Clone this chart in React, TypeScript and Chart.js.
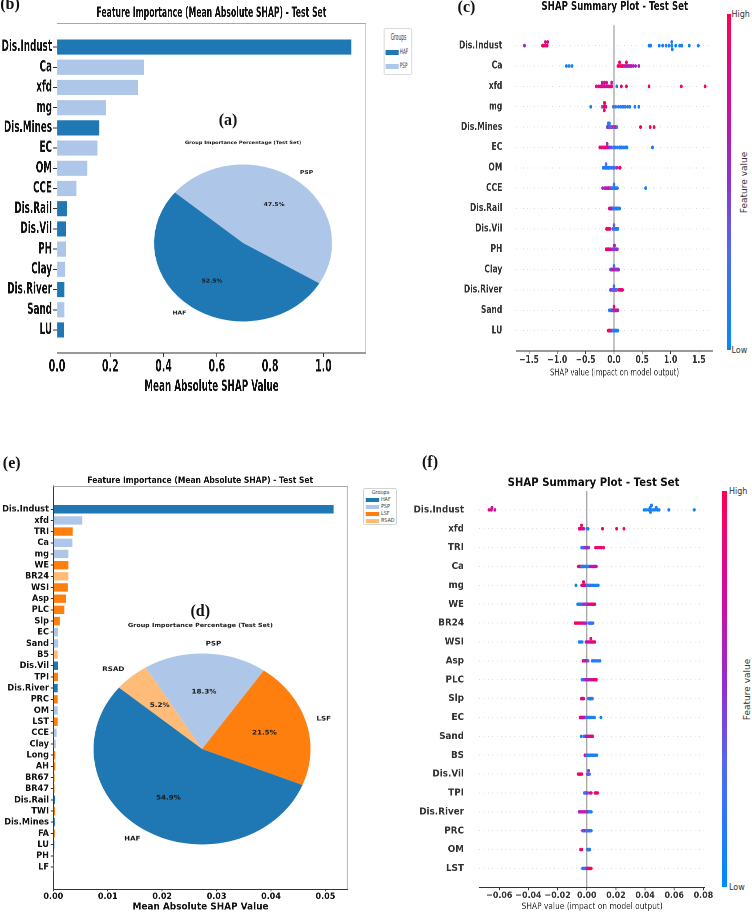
import React, { useEffect, useRef } from 'react';
import { Chart, registerables } from 'chart.js';

Chart.register(...registerables);
Chart.defaults.font.family = "'DejaVu Sans', sans-serif";

// ================= DATA =================
const groupNames = ['HAF', 'PSP', 'LSF', 'RSAD'];
const groupColorList = ['#1f77b4', '#aec7e8', '#ff7f0e', '#ffbb78'];

// (b) feature importance, first model
const bFeatures = ['Dis.Indust', 'Ca', 'xfd', 'mg', 'Dis.Mines', 'EC', 'OM', 'CCE', 'Dis.Rail', 'Dis.Vil', 'PH', 'Clay', 'Dis.River', 'Sand', 'LU'];
const bValues = [1.105, 0.327, 0.304, 0.183, 0.159, 0.152, 0.114, 0.073, 0.039, 0.033, 0.033, 0.031, 0.028, 0.028, 0.026];
const bGroups = ['HAF', 'PSP', 'PSP', 'PSP', 'HAF', 'PSP', 'PSP', 'PSP', 'HAF', 'HAF', 'PSP', 'PSP', 'HAF', 'PSP', 'HAF'];
const bXTicks = [0, 0.2, 0.4, 0.6, 0.8, 1.0];
const bLegendGroups = ['HAF', 'PSP'];

// (a) group pie, first model
const aGroups = ['HAF', 'PSP'];
const aPercent = [52.5, 47.5];

// (c) SHAP summary, first model
const cFeatures = ['Dis.Indust', 'Ca', 'xfd', 'mg', 'Dis.Mines', 'EC', 'OM', 'CCE', 'Dis.Rail', 'Dis.Vil', 'PH', 'Clay', 'Dis.River', 'Sand', 'LU'];
const cShap = [
  [-1.58, -1.26, -1.24, -1.21, -1.21, -1.18, -1.17, 0.62, 0.65, 0.8, 0.86, 0.92, 0.97, 1.02, 1.02, 1.03, 1.09, 1.16, 1.19, 1.2, 1.33, 1.49],
  [-0.84, -0.79, -0.74, 0.07, 0.09, 0.1, 0.12, 0.13, 0.15, 0.16, 0.18, 0.2, 0.22, 0.22, 0.23, 0.25, 0.27, 0.29, 0.31, 0.34, 0.38, 0.44],
  [-0.31, -0.27, -0.24, -0.22, -0.21, -0.2, -0.18, -0.17, -0.16, -0.14, -0.13, -0.11, -0.09, -0.06, -0.04, -0.04, 0.05, 0.13, 0.22, 0.62, 1.19, 1.61],
  [-0.41, -0.21, -0.18, -0.17, -0.17, -0.17, -0.16, -0.16, -0.15, -0.14, -0.01, 0.03, 0.08, 0.12, 0.16, 0.2, 0.24, 0.28, 0.37, 0.44],
  [-0.12, -0.11, -0.1, -0.1, -0.09, -0.08, -0.08, -0.07, -0.06, -0.05, -0.04, -0.02, -0.01, 0.0, 0.02, 0.03, 0.05, 0.47, 0.64, 0.71],
  [-0.25, -0.22, -0.19, -0.16, -0.14, -0.12, -0.12, -0.1, -0.08, -0.05, -0.01, 0.02, 0.06, 0.1, 0.11, 0.13, 0.16, 0.2, 0.23, 0.68],
  [-0.19, -0.17, -0.16, -0.15, -0.14, -0.14, -0.13, -0.12, -0.11, -0.1, -0.09, -0.08, -0.07, -0.05, -0.03, -0.01, 0.01, 0.05, 0.1, 0.11],
  [-0.2, -0.16, -0.14, -0.12, -0.1, -0.09, -0.07, -0.06, -0.04, -0.03, -0.02, -0.01, 0.0, 0.0, 0.01, 0.02, 0.03, 0.04, 0.06, 0.56],
  [-0.08, -0.07, -0.06, -0.05, -0.04, -0.03, -0.02, -0.01, 0.0, 0.01, 0.02, 0.03, 0.04, 0.05, 0.06, 0.07, 0.08, 0.1],
  [-0.13, -0.12, -0.11, -0.1, -0.08, -0.07, -0.02, -0.01, 0.0, 0.0, 0.01, 0.02, 0.03, 0.04, 0.05, 0.06, 0.07],
  [-0.14, -0.13, -0.11, -0.1, -0.09, -0.07, -0.06, -0.03, -0.02, -0.01, 0.0, 0.01, 0.01, 0.02, 0.03, 0.04, 0.06],
  [-0.06, -0.05, -0.04, -0.03, -0.02, -0.01, 0.0, 0.0, 0.01, 0.02, 0.03, 0.04, 0.05, 0.06, 0.07, 0.08],
  [-0.06, -0.05, -0.03, -0.02, -0.01, 0.0, 0.0, 0.01, 0.02, 0.03, 0.04, 0.05, 0.09, 0.11, 0.13, 0.15],
  [-0.08, -0.06, -0.05, -0.03, -0.02, -0.01, 0.0, 0.0, 0.01, 0.02, 0.03, 0.04, 0.05, 0.06, 0.07],
  [-0.1, -0.09, -0.08, -0.07, -0.05, -0.04, -0.02, -0.01, 0.0, 0.01, 0.02, 0.03, 0.04, 0.05, 0.07],
];
const cFeat = [
  [0.55, 0.9, 0.95, 0.85, 0.7, 0.95, 0.9, 0.1, 0.05, 0.1, 0.05, 0.15, 0.1, 0.05, 0.2, 0.1, 0.05, 0.1, 0.05, 0.15, 0.05, 0.1],
  [0.05, 0.1, 0.05, 0.95, 0.9, 1, 0.85, 0.95, 0.7, 0.9, 0.6, 0.85, 0.6, 0.95, 0.55, 0.8, 0.6, 0.65, 0.7, 0.6, 0.55, 0.6],
  [0.9, 0.8, 0.95, 0.7, 0.65, 0.85, 0.6, 0.75, 0.9, 0.65, 0.8, 0.7, 0.85, 0.75, 0.9, 0.6, 0.1, 0.95, 0.9, 1, 1, 1],
  [0.05, 0.1, 0.95, 1, 0.9, 0.95, 0.85, 1, 0.9, 0.8, 0.2, 0.15, 0.1, 0.25, 0.1, 0.2, 0.05, 0.15, 0.1, 0.05],
  [0.4, 0.3, 0.5, 0.2, 0.6, 0.35, 0.15, 0.45, 0.25, 0.55, 0.3, 0.2, 0.65, 0.25, 0.3, 0.9, 0.2, 0.95, 1, 0.9],
  [0.85, 0.9, 0.7, 0.95, 0.8, 0.9, 0.6, 0.75, 0.5, 0.4, 0.3, 0.2, 0.15, 0.1, 0.05, 0.2, 0.15, 0.1, 0.05, 0.05],
  [0.1, 0.05, 0.2, 0.15, 0.1, 0.25, 0.05, 0.1, 0.2, 0.15, 0.05, 0.1, 0.3, 0.15, 0.2, 0.1, 0.35, 0.55, 0.95, 0.9],
  [0.55, 0.6, 0.7, 0.65, 0.5, 0.9, 0.6, 0.45, 0.3, 0.2, 0.15, 0.1, 0.1, 0.2, 0.05, 0.1, 0.15, 0.05, 0.1, 0.05],
  [0.9, 0.95, 0.6, 0.9, 0.55, 0.85, 0.5, 0.3, 0.2, 0.1, 0.15, 0.05, 0.1, 0.05, 0.1, 0.05, 0.1, 0.05],
  [0.95, 0.9, 1, 0.85, 0.9, 0.8, 0.4, 0.3, 0.2, 0.35, 0.15, 0.1, 0.25, 0.1, 0.05, 0.2, 0.1],
  [0.95, 0.9, 0.85, 1, 0.9, 0.8, 0.75, 0.6, 0.55, 0.5, 0.65, 0.45, 0.6, 0.5, 0.4, 0.55, 0.5],
  [0.3, 0.5, 0.2, 0.6, 0.35, 0.9, 0.45, 0.25, 0.55, 0.3, 0.8, 0.4, 0.6, 0.5, 0.35, 0.55],
  [0.5, 0.45, 0.3, 0.55, 0.2, 0.4, 0.15, 0.35, 0.25, 0.5, 0.2, 0.3, 0.9, 0.95, 0.85, 0.9],
  [0.1, 0.2, 0.15, 0.9, 0.3, 0.85, 0.2, 0.9, 0.6, 0.95, 0.5, 0.8, 0.9, 0.7, 0.6],
  [0.95, 0.9, 1, 0.85, 0.9, 0.5, 0.3, 0.2, 0.1, 0.15, 0.05, 0.1, 0.2, 0.05, 0.1],
];
const cXTicks = [-1.5, -1.0, -0.5, 0.0, 0.5, 1.0, 1.5];

// (e) feature importance, second model
const eFeatures = ['Dis.Indust', 'xfd', 'TRI', 'Ca', 'mg', 'WE', 'BR24', 'WSI', 'Asp', 'PLC', 'Slp', 'EC', 'Sand', 'B5', 'Dis.Vil', 'TPI', 'Dis.River', 'PRC', 'OM', 'LST', 'CCE', 'Clay', 'Long', 'AH', 'BR67', 'BR47', 'Dis.Rail', 'TWI', 'Dis.Mines', 'FA', 'LU', 'PH', 'LF'];
const eValues = [0.0515, 0.00534, 0.00356, 0.0035, 0.00276, 0.00276, 0.00276, 0.00264, 0.00233, 0.00202, 0.0012, 0.00092, 0.00092, 0.0008, 0.00086, 0.00086, 0.0008, 0.0008, 0.0008, 0.0008, 0.0006, 0.00043, 0.00037, 0.00037, 0.0003, 0.0003, 0.0003, 0.0003, 0.00025, 0.00025, 0.0002, 0.00006, 0.00003];
const eGroups = ['HAF', 'PSP', 'LSF', 'PSP', 'PSP', 'LSF', 'RSAD', 'LSF', 'LSF', 'LSF', 'LSF', 'PSP', 'PSP', 'RSAD', 'HAF', 'LSF', 'HAF', 'LSF', 'PSP', 'LSF', 'PSP', 'PSP', 'LSF', 'LSF', 'RSAD', 'RSAD', 'HAF', 'LSF', 'HAF', 'LSF', 'HAF', 'PSP', 'LSF'];
const eXTicks = [0, 0.01, 0.02, 0.03, 0.04, 0.05];
const eLegendGroups = ['HAF', 'PSP', 'LSF', 'RSAD'];

// (d) group pie, second model
const dGroups = ['HAF', 'LSF', 'PSP', 'RSAD'];
const dPercent = [54.9, 21.5, 18.3, 5.2];

// (f) SHAP summary, second model
const fFeatures = ['Dis.Indust', 'xfd', 'TRI', 'Ca', 'mg', 'WE', 'BR24', 'WSI', 'Asp', 'PLC', 'Slp', 'EC', 'Sand', 'BS', 'Dis.Vil', 'TPI', 'Dis.River', 'PRC', 'OM', 'LST'];
const fShap = [
  [-0.067, -0.0655, -0.065, -0.063, 0.0394, 0.0408, 0.0424, 0.0435, 0.0435, 0.0437, 0.0444, 0.0455, 0.0466, 0.0476, 0.0484, 0.0496, 0.0563, 0.0737],
  [-0.0052, -0.0048, -0.0045, -0.0043, -0.0041, -0.0038, -0.0036, -0.0034, -0.0031, -0.0028, -0.0025, -0.0021, 0.0002, 0.0008, 0.0108, 0.0205, 0.0255],
  [-0.0034, -0.003, -0.0024, -0.0018, -0.0012, -0.0008, -0.0005, -0.0002, 0.0, 0.0003, 0.0008, 0.0013, 0.0061, 0.0075, 0.009, 0.01, 0.0115],
  [-0.0056, -0.005, -0.0045, -0.004, -0.0035, -0.003, -0.0025, -0.002, -0.0012, -0.0005, 0.0, 0.0008, 0.0015, 0.0025, 0.0035, 0.0042, 0.005, 0.0058, 0.0065],
  [-0.0074, -0.0034, -0.0028, -0.0022, -0.0022, -0.0018, -0.0015, -0.0012, -0.0008, 0.0005, 0.0015, 0.002, 0.003, 0.004, 0.0052, 0.0065, 0.0078],
  [-0.0061, -0.0055, -0.0048, -0.004, -0.0032, -0.0025, -0.0015, -0.0008, 0.0, 0.0008, 0.0015, 0.0025, 0.0032, 0.0035, 0.0038, 0.004, 0.0048, 0.0055],
  [-0.0079, -0.0072, -0.0065, -0.0058, -0.005, -0.0043, -0.0035, -0.0028, -0.002, -0.0012, -0.0005, 0.0015, 0.0022, 0.0025, 0.0028, 0.003, 0.0033, 0.0038, 0.0042],
  [-0.0052, -0.0045, -0.0032, -0.0005, 0.0, 0.0008, 0.0015, 0.0022, 0.0028, 0.0028, 0.0032, 0.0035, 0.0042, 0.0048, 0.0055],
  [-0.0025, -0.002, -0.0015, -0.0012, -0.001, -0.0007, -0.0005, -0.0002, 0.0, 0.0003, 0.0008, 0.0038, 0.0045, 0.0055, 0.0065, 0.0078, 0.009],
  [-0.0032, -0.0025, -0.0015, -0.0008, -0.0002, 0.0004, 0.001, 0.0016, 0.0022, 0.0028, 0.0034, 0.004, 0.0046, 0.0052, 0.0058, 0.0065],
  [-0.0036, -0.0034, -0.0032, -0.003, -0.0028, -0.0025, -0.0022, 0.0012, 0.0018, 0.0022, 0.0025, 0.0028, 0.0032, 0.0035, 0.0038],
  [-0.0045, -0.004, -0.0035, -0.003, -0.0025, -0.002, -0.0015, -0.0008, -0.0002, 0.0005, 0.0012, 0.002, 0.003, 0.004, 0.0052, 0.0097],
  [-0.0038, -0.0018, -0.0012, -0.0005, 0.0, 0.0005, 0.001, 0.0015, 0.002, 0.0025, 0.003, 0.0035, 0.004],
  [-0.0012, -0.001, -0.0008, -0.0006, -0.0004, 0.0, 0.0005, 0.001, 0.0015, 0.002, 0.0025, 0.003, 0.0035, 0.004, 0.0045, 0.0052, 0.006, 0.0068],
  [-0.0058, -0.0052, -0.0048, -0.0044, -0.004, -0.0034, 0.0005, 0.0008, 0.001, 0.0012, 0.0012, 0.0014, 0.0016, 0.0018],
  [-0.0016, -0.0012, -0.0008, -0.0005, -0.0002, 0.0, 0.0002, 0.0005, 0.0025, 0.003, 0.0058, 0.0063, 0.0068, 0.0074],
  [-0.0052, -0.0045, -0.0038, -0.003, -0.0022, -0.0015, -0.0008, 0.0, 0.0005, 0.0008, 0.0012, 0.0018, 0.0025, 0.003],
  [-0.0028, -0.0022, -0.0018, -0.0012, -0.0008, -0.0004, 0.0, 0.0005, 0.001, 0.0014, 0.0018, 0.0022, 0.0026, 0.003],
  [-0.0042, -0.0038, -0.0034, 0.0006, 0.0008, 0.001, 0.0012, 0.0014, 0.0016, 0.0018, 0.002],
  [-0.0028, -0.0022, -0.0016, -0.0012, -0.0008, -0.0004, 0.0, 0.0004, 0.0008, 0.0012, 0.0016, 0.002, 0.0025, 0.003],
];
const fFeat = [
  [0.8, 0.85, 0.7, 0.75, 0.05, 0.1, 0.05, 0.15, 0.1, 0.05, 0.1, 0.05, 0.2, 0.1, 0.05, 0.1, 0.05, 0.05],
  [0.9, 0.95, 0.85, 1, 0.9, 0.8, 0.95, 0.9, 0.85, 0.6, 0.9, 0.7, 0.1, 0.05, 0.95, 0.9, 0.95],
  [0.1, 0.2, 0.15, 0.3, 0.5, 0.6, 0.4, 0.55, 0.7, 0.45, 0.6, 0.5, 0.95, 0.9, 1, 0.85, 0.9],
  [0.9, 0.95, 0.85, 0.9, 0.2, 0.1, 0.15, 0.05, 0.1, 0.2, 0.15, 0.05, 0.1, 0.6, 0.8, 0.55, 0.9, 0.65, 0.75],
  [0.05, 0.6, 0.95, 0.9, 1, 0.85, 0.9, 0.95, 0.8, 0.2, 0.15, 0.1, 0.3, 0.1, 0.05, 0.15, 0.05],
  [0.05, 0.1, 0.15, 0.1, 0.2, 0.45, 0.55, 0.6, 0.4, 0.65, 0.75, 0.8, 0.9, 0.95, 0.85, 1, 0.9, 0.8],
  [0.95, 0.9, 1, 0.9, 0.85, 0.95, 0.8, 0.9, 0.7, 0.6, 0.55, 0.2, 0.1, 0.3, 0.15, 0.05, 0.2, 0.1, 0.25],
  [0.05, 0.1, 0.15, 0.5, 0.6, 0.8, 0.9, 0.7, 0.95, 0.85, 0.9, 0.6, 1, 0.9, 0.85],
  [0.9, 0.7, 0.95, 0.6, 0.85, 0.75, 0.9, 0.5, 0.8, 0.55, 0.4, 0.1, 0.05, 0.15, 0.1, 0.05, 0.1],
  [0.1, 0.15, 0.5, 0.55, 0.6, 0.65, 0.7, 0.6, 0.75, 0.8, 0.65, 0.9, 0.7, 0.85, 0.95, 0.9],
  [0.95, 0.9, 1, 0.85, 0.9, 0.95, 0.8, 0.1, 0.05, 0.15, 0.1, 0.2, 0.05, 0.1, 0.15],
  [0.95, 0.9, 0.85, 1, 0.9, 0.6, 0.8, 0.5, 0.3, 0.2, 0.15, 0.1, 0.05, 0.1, 0.15, 0.05],
  [0.05, 0.1, 0.3, 0.5, 0.6, 0.7, 0.85, 0.9, 0.65, 0.95, 0.8, 0.9, 0.75],
  [0.7, 0.8, 0.6, 0.9, 0.55, 0.3, 0.2, 0.15, 0.1, 0.05, 0.1, 0.2, 0.05, 0.15, 0.1, 0.05, 0.1, 0.05],
  [0.95, 0.9, 1, 0.85, 0.9, 0.95, 0.5, 0.3, 0.6, 0.2, 0.45, 0.35, 0.55, 0.25],
  [0.2, 0.3, 0.15, 0.4, 0.1, 0.35, 0.25, 0.45, 0.9, 0.85, 0.95, 1, 0.9, 0.85],
  [0.6, 0.55, 0.65, 0.5, 0.7, 0.45, 0.9, 0.3, 0.95, 0.2, 0.85, 0.1, 0.15, 0.05],
  [0.6, 0.5, 0.2, 0.1, 0.7, 0.15, 0.3, 0.05, 0.2, 0.1, 0.4, 0.15, 0.05, 0.1],
  [0.95, 0.9, 0.85, 0.1, 0.2, 0.05, 0.15, 0.1, 0.3, 0.05, 0.2],
  [0.1, 0.05, 0.15, 0.2, 0.3, 0.5, 0.4, 0.6, 0.8, 0.9, 0.85, 0.95, 0.9, 1],
];
const fXTicks = [-0.06, -0.04, -0.02, 0, 0.02, 0.04, 0.06, 0.08];

// texts
const barTitle = 'Feature Importance (Mean Absolute SHAP) - Test Set';
const barXTitle = 'Mean Absolute SHAP Value';
const pieTitle = 'Group Importance Percentage (Test Set)';
const shapTitle = 'SHAP Summary Plot - Test Set';
const shapXTitle = 'SHAP value (impact on model output)';
const pieStartAngle = 140;

// ================= HELPERS =================
const colorOf = (g: string) => groupColorList[groupNames.indexOf(g)];
const fmtMinus = (v: number, d: number) => (v < -1e-12 ? '\u2212' : '') + Math.abs(v).toFixed(d);

const cmapStops: [number, number[]][] = [
  [0, [0, 138, 250]],
  [0.3, [80, 105, 240]],
  [0.5, [140, 50, 215]],
  [0.72, [205, 15, 160]],
  [1, [255, 0, 82]],
];
function shapColor(t: number) {
  for (let i = 1; i < cmapStops.length; i++) {
    const [t1, c1] = cmapStops[i];
    const [t0, c0] = cmapStops[i - 1];
    if (t <= t1) {
      const f = (t - t0) / (t1 - t0);
      const c = c0.map((v, k) => Math.round(v + (c1[k] - v) * f));
      return `rgb(${c[0]},${c[1]},${c[2]})`;
    }
  }
  return 'rgb(255,0,82)';
}
const cmapGradient = 'linear-gradient(to top, ' + cmapStops.map(([t, c]) => `rgb(${c.join(',')}) ${t * 100}%`).join(', ') + ')';

// SHAP beeswarm layout (deterministic version of shap's algorithm)
function beeswarm(vals: number[]) {
  const n = vals.length;
  const mn = Math.min(...vals), mx = Math.max(...vals);
  const nbins = 100;
  const quant = vals.map((v) => Math.round((nbins * (v - mn)) / (mx - mn + 1e-8)));
  const inds = vals.map((_, i) => i).sort((a, b) => quant[a] - quant[b] || a - b);
  let layer = 0, last = -1;
  const ys = new Array(n).fill(0);
  for (const ind of inds) {
    if (quant[ind] !== last) layer = 0;
    ys[ind] = Math.ceil(layer / 2) * ((layer % 2) * 2 - 1);
    layer++;
    last = quant[ind];
  }
  const m = Math.max(...ys.map((y) => y + 1));
  return ys.map((y) => y * 0.9 * (0.4 / m));
}

const framePlugin = {
  id: 'frame',
  afterDatasetsDraw(chart: any, _a: any, opts: any) {
    const { ctx, chartArea } = chart;
    const { left, top, right, bottom } = chartArea;
    ctx.save();
    ctx.strokeStyle = opts.color || '#999';
    ctx.lineWidth = 1;
    ctx.beginPath();
    ctx.moveTo(left, top + 0.5);
    ctx.lineTo(right - 0.5, top + 0.5);
    ctx.lineTo(right - 0.5, bottom);
    ctx.stroke();
    ctx.restore();
  },
};

// chart title drawn at a fixed spot of the canvas
const panelTitlePlugin = {
  id: 'panelTitle',
  afterDraw(chart: any, _a: any, opts: any) {
    if (!opts || !opts.text) return;
    const ctx = chart.ctx;
    ctx.save();
    ctx.font = `bold ${opts.size}px 'DejaVu Sans'`;
    ctx.fillStyle = '#111';
    ctx.textAlign = 'center';
    ctx.textBaseline = 'middle';
    ctx.fillText(opts.text, opts.x, opts.y);
    ctx.restore();
  },
};

const pieLabelPlugin = {
  id: 'pieLabels',
  afterDatasetsDraw(chart: any, _a: any, opts: any) {
    const ctx = chart.ctx;
    const meta = chart.getDatasetMeta(0);
    const labels = chart.data.labels;
    const data = chart.data.datasets[0].data;
    ctx.save();
    ctx.fillStyle = '#1a1a1a';
    ctx.textBaseline = 'middle';
    ctx.font = `bold ${opts.size}px 'DejaVu Sans'`;
    meta.data.forEach((arc: any, i: number) => {
      const p = arc.getProps(['x', 'y', 'startAngle', 'endAngle', 'outerRadius'], true);
      const mid = (p.startAngle + p.endAngle) / 2;
      const c = Math.cos(mid), s = Math.sin(mid);
      ctx.textAlign = c > 0 ? 'left' : 'right';
      ctx.fillText(labels[i], p.x + c * p.outerRadius * 1.1, p.y + s * p.outerRadius * 1.1);
      ctx.textAlign = 'center';
      ctx.fillText(Number(data[i]).toFixed(1) + '%', p.x + c * p.outerRadius * 0.6, p.y + s * p.outerRadius * 0.6);
    });
    ctx.font = `bold ${opts.titleSize}px 'DejaVu Sans'`;
    ctx.textAlign = 'center';
    ctx.fillText(opts.title, opts.titleX, opts.titleY);
    ctx.restore();
  },
};

function barConfig(o: any) {
  return {
    type: 'bar',
    data: {
      datasets: [{
        data: o.values.map((v: number, i: number) => ({ x: v, y: i })),
        backgroundColor: o.groups.map(colorOf),
        borderWidth: 0,
        barPercentage: 0.75,
        categoryPercentage: 1,
      }],
    },
    options: {
      indexAxis: 'y',
      animation: false,
      responsive: false,
      devicePixelRatio: 2,
      layout: { padding: { left: 0, top: o.padT, right: o.padR, bottom: o.padB } },
      plugins: { legend: { display: false }, tooltip: { enabled: false }, frame: { color: '#a8a8a8' }, panelTitle: o.title },
      scales: {
        x: {
          type: 'linear', min: 0, max: o.xMax, offset: false,
          afterFit: (s: any) => { s.height = o.xHeight; },
          afterBuildTicks: (s: any) => { s.ticks = o.ticks.map((v: number) => ({ value: v })); },
          ticks: { callback: (v: number) => fmtMinus(v, o.decimals), font: { size: o.tickSize, weight: 'bold' }, color: '#111', padding: 0, autoSkip: false, maxRotation: 0 },
          grid: { drawOnChartArea: false, tickLength: o.xTickLen, color: '#333' },
          border: { color: '#333' },
          title: { display: true, text: barXTitle, font: { size: o.titleSize, weight: 'bold' }, color: '#111', padding: { top: 0, bottom: o.titlePadB } },
        },
        y: {
          type: 'linear', reverse: true, min: o.yMin, max: o.yMax, offset: false,
          afterFit: (s: any) => { s.width = o.yWidth; },
          afterBuildTicks: (s: any) => { s.ticks = o.features.map((_: any, i: number) => ({ value: i })); },
          ticks: { callback: (v: number) => o.features[v], font: { size: o.labelSize, weight: 'bold' }, color: '#111', padding: o.tickPad, autoSkip: false },
          grid: { drawOnChartArea: false, tickLength: o.tickLen, color: '#333', offset: false },
          border: { color: '#333' },
        },
      },
    },
    plugins: [framePlugin, panelTitlePlugin],
  };
}

function shapConfig(o: any) {
  const pts: any[] = [];
  const cols: string[] = [];
  o.shap.forEach((row: number[], r: number) => {
    const off = beeswarm(row);
    row.forEach((v, k) => {
      pts.push({ x: v, y: r - off[k] });
      cols.push(shapColor(o.feat[r][k]));
    });
  });
  const isZero = (c: any) => c.tick && Math.abs(c.tick.value) < 1e-12;
  return {
    type: 'scatter',
    data: { datasets: [{ data: pts, pointBackgroundColor: cols, pointBorderColor: cols, pointBorderWidth: 0, pointRadius: o.radius, showLine: false }] },
    options: {
      animation: false,
      responsive: false,
      devicePixelRatio: 2,
      layout: { padding: { left: 0, top: o.padT, right: o.padR, bottom: o.padB } },
      plugins: { legend: { display: false }, tooltip: { enabled: false }, panelTitle: o.title },
      scales: {
        x: {
          type: 'linear', min: o.xMin, max: o.xMax,
          afterFit: (s: any) => { s.height = o.xHeight; },
          afterBuildTicks: (s: any) => { s.ticks = o.ticks.map((v: number) => ({ value: v })); },
          ticks: { callback: (v: number) => fmtMinus(v, o.decimals), font: { size: o.tickSize, weight: 'bold' }, color: '#333', padding: 0, autoSkip: false, maxRotation: 0 },
          grid: {
            color: (c: any) => (isZero(c) ? o.zeroColor : 'rgba(0,0,0,0)'),
            lineWidth: (c: any) => (isZero(c) ? o.zeroWidth : 0),
            tickColor: '#333', tickWidth: 1, tickLength: 3,
          },
          border: { color: '#333', width: 1 },
          title: { display: true, text: shapXTitle, font: { size: o.axisTitleSize }, color: '#333', padding: { top: 0, bottom: 0 } },
        },
        y: {
          type: 'linear', reverse: true, min: -1, max: o.features.length,
          afterFit: (s: any) => { s.width = o.yWidth; },
          afterBuildTicks: (s: any) => { s.ticks = o.features.map((_: any, i: number) => ({ value: i })); },
          ticks: { callback: (v: number) => o.features[v], font: { size: o.labelSize, weight: 'bold' }, color: '#333', padding: o.labelPad, autoSkip: false },
          grid: { drawTicks: false, color: '#d0d0d0', lineWidth: 0.7 },
          border: { display: false, dash: [1, 4] },
        },
      },
    },
    plugins: [panelTitlePlugin],
  };
}

function pieConfig(o: any) {
  const groups = [...o.groups].reverse();
  const pct = [...o.percent].reverse();
  return {
    type: 'pie',
    data: { labels: groups, datasets: [{ data: pct, backgroundColor: groups.map(colorOf), borderWidth: 0 }] },
    options: {
      animation: false,
      responsive: false,
      devicePixelRatio: 2,
      rotation: 90 - pieStartAngle,
      layout: { padding: o.pad },
      plugins: {
        legend: { display: false },
        tooltip: { enabled: false },
        pieLabels: { size: o.labelSize, title: pieTitle, titleSize: o.titleSize, titleX: o.titleX, titleY: o.titleY },
      },
    },
    plugins: [pieLabelPlugin],
  };
}

// ================= COMPONENTS =================
function ChartBox({ make, w, h }: { make: () => any; w: number; h: number }) {
  const ref = useRef<HTMLCanvasElement | null>(null);
  useEffect(() => {
    if (!ref.current) return;
    const ch = new Chart(ref.current, make());
    return () => ch.destroy();
  }, []);
  return <canvas ref={ref} width={w} height={h} style={{ position: 'absolute', left: 0, top: 0, width: w, height: h }} />;
}

function Scaled({ left, top, w, h, sx, children }: any) {
  return (
    <div style={{ position: 'absolute', left, top, width: w, height: h, transform: `scaleX(${sx})`, transformOrigin: '0 0' }}>
      {children}
    </div>
  );
}

// absolutely placed text; (x, y) is the anchor in its parent, text is vertically centred on y
function Txt({ x, y, children, size, weight = 'normal', family = "'DejaVu Sans', sans-serif", color = '#111', align = 'center', rotate = 0 }: any) {
  const tx = align === 'center' ? '-50%' : align === 'right' ? '-100%' : '0%';
  return (
    <div style={{ position: 'absolute', left: x, top: y - size / 2, height: size, width: 'max-content', transform: `translateX(${tx}) rotate(${rotate}deg)`, transformOrigin: align === 'center' ? '50% 50%' : '0 50%', fontSize: size, fontWeight: weight, fontFamily: family, color, whiteSpace: 'nowrap', lineHeight: `${size}px` }}>
      {children}
    </div>
  );
}

function Legend({ left, top, w, h, groups, size, titleSize, rowY, swL, swW, swH, textL }: any) {
  return (
    <div style={{ position: 'absolute', left, top, width: w, height: h, border: '1px solid #cfcfcf', borderRadius: 2, background: '#fff', boxSizing: 'border-box' }}>
      <Txt x={w / 2} y={rowY[0]} size={titleSize} color="#333">Groups</Txt>
      {groups.map((g: string, i: number) => (
        <React.Fragment key={g}>
          <div style={{ position: 'absolute', left: swL, top: rowY[i + 1] - swH / 2, width: swW, height: swH, background: colorOf(g) }} />
          <Txt x={textL} y={rowY[i + 1]} size={size} color="#333" align="left">{g}</Txt>
        </React.Fragment>
      ))}
    </div>
  );
}

function Colorbar({ x, top, w, h, labelX, fvX }: any) {
  return (
    <>
      <div style={{ position: 'absolute', left: x, top, width: w, height: h, background: cmapGradient }} />
      <Txt x={labelX} y={top + 1} size={8} color="#333" align="left">High</Txt>
      <Txt x={labelX} y={top + h + 1} size={8} color="#333" align="left">Low</Txt>
      <Txt x={fvX} y={top + h / 2} size={9} color="#333" rotate={-90}>Feature value</Txt>
    </>
  );
}

export default function App() {
  const serif = "'Liberation Serif', 'Times New Roman', serif";
  return (
    <div style={{ position: 'absolute', left: 0, top: 0, width: 752, height: 913, background: '#fff', overflow: 'hidden' }}>
      {/* (b) bar chart */}
      <Scaled left={0} top={0} w={760} h={400} sx={0.55}>
        <ChartBox w={680} h={400} make={() => barConfig({
          features: bFeatures, values: bValues, groups: bGroups, ticks: bXTicks, decimals: 1,
          xMax: 1.16, yMin: -1.19, yMax: 15.14, padT: 23, padR: 14.5, padB: 0, yWidth: 103.6, xHeight: 47,
          labelSize: 16, tickSize: 17, titleSize: 16, tickLen: 7, tickPad: 2, xTickLen: 4, titlePadB: 3.4,
          title: { text: barTitle, size: 14, x: 384.5, y: 13.5 },
        })} />
        <Legend left={698} top={28} w={51} h={47} groups={bLegendGroups} size={7.5} titleSize={8} rowY={[9, 23, 37]} swL={2} swW={24} swH={5} textL={28} />
      </Scaled>

      {/* (a) pie */}
      <Scaled left={106.9} top={123} w={240} h={240} sx={1.134}>
        <ChartBox w={240} h={240} make={() => pieConfig({ groups: aGroups, percent: aPercent, pad: 41.5, labelSize: 5.3, titleSize: 4.5, titleX: 120, titleY: 20 })} />
      </Scaled>

      {/* (c) SHAP summary */}
      <Scaled left={420} top={0} w={420} h={400} sx={0.72}>
        <ChartBox w={420} h={400} make={() => shapConfig({
          features: cFeatures, shap: cShap, feat: cFeat, ticks: cXTicks, decimals: 1,
          xMin: -1.73, xMax: 1.75, padT: 15, padR: 13, padB: 21.3, yWidth: 133.3, xHeight: 27.7,
          labelSize: 10.5, tickSize: 10.5, axisTitleSize: 9.5, labelPad: 19, radius: 1.9, zeroColor: '#c4c4c4', zeroWidth: 2.8,
          title: { text: shapTitle, size: 12, x: 270.5, y: 7 },
        })} />
      </Scaled>
      <Colorbar x={727} top={14} w={3.5} h={336} labelX={731.5} fvX={744} />

      {/* (e) bar chart */}
      <Scaled left={0} top={440} w={450} h={473} sx={0.89}>
        <ChartBox w={395} h={473} make={() => barConfig({
          features: eFeatures, values: eValues, groups: eGroups, ticks: eXTicks, decimals: 2,
          xMax: 0.0541, yMin: -2.08, yMax: 34.0, padT: 46, padR: 4.3, padB: 0.3, yWidth: 59.9, xHeight: 23.4,
          labelSize: 9.2, tickSize: 9, titleSize: 10, tickLen: 3, tickPad: 1.9, xTickLen: 2, titlePadB: 0,
          title: { text: barTitle, size: 8.5, x: 225, y: 40.7 },
        })} />
        <Legend left={407.5} top={48} w={38.2} h={37} groups={eLegendGroups} size={5.5} titleSize={5.5} rowY={[4, 11, 18, 25, 32]} swL={2.5} swW={15} swH={3.5} textL={19.5} />
      </Scaled>

      {/* (d) pie */}
      <Scaled left={42.7} top={609.3} w={280} h={280} sx={1.136}>
        <ChartBox w={280} h={280} make={() => pieConfig({ groups: dGroups, percent: dPercent, pad: 44.5, labelSize: 6.3, titleSize: 5.6, titleX: 138.5, titleY: 16.7 })} />
      </Scaled>

      {/* (f) SHAP summary */}
      <Scaled left={370} top={440} w={400} h={473} sx={0.88}>
        <ChartBox w={390} h={473} make={() => shapConfig({
          features: fFeatures, shap: fShap, feat: fFeat, ticks: fXTicks, decimals: 2,
          xMin: -0.0737, xMax: 0.0811, padT: 51, padR: 5.6, padB: 0.9, yWidth: 124.2, xHeight: 24.8,
          labelSize: 10, tickSize: 9, axisTitleSize: 8.5, labelPad: 17.4, radius: 1.7, zeroColor: '#a8a8a8', zeroWidth: 1.6,
          title: { text: shapTitle, size: 11.5, x: 254, y: 43 },
        })} />
      </Scaled>
      <Colorbar x={722} top={491} w={4.5} h={396} labelX={729} fvX={747} />

      {/* panel letters */}
      <Txt x={10} y={4} size={16} weight="bold" family={serif}>(b)</Txt>
      <Txt x={228} y={120} size={16} weight="bold" family={serif}>(a)</Txt>
      <Txt x={466.5} y={7} size={16} weight="bold" family={serif}>(c)</Txt>
      <Txt x={11.7} y={462.5} size={16} weight="bold" family={serif}>(e)</Txt>
      <Txt x={200.3} y={611} size={16} weight="bold" family={serif}>(d)</Txt>
      <Txt x={430} y={461.7} size={16} weight="bold" family={serif}>(f)</Txt>
    </div>
  );
}
